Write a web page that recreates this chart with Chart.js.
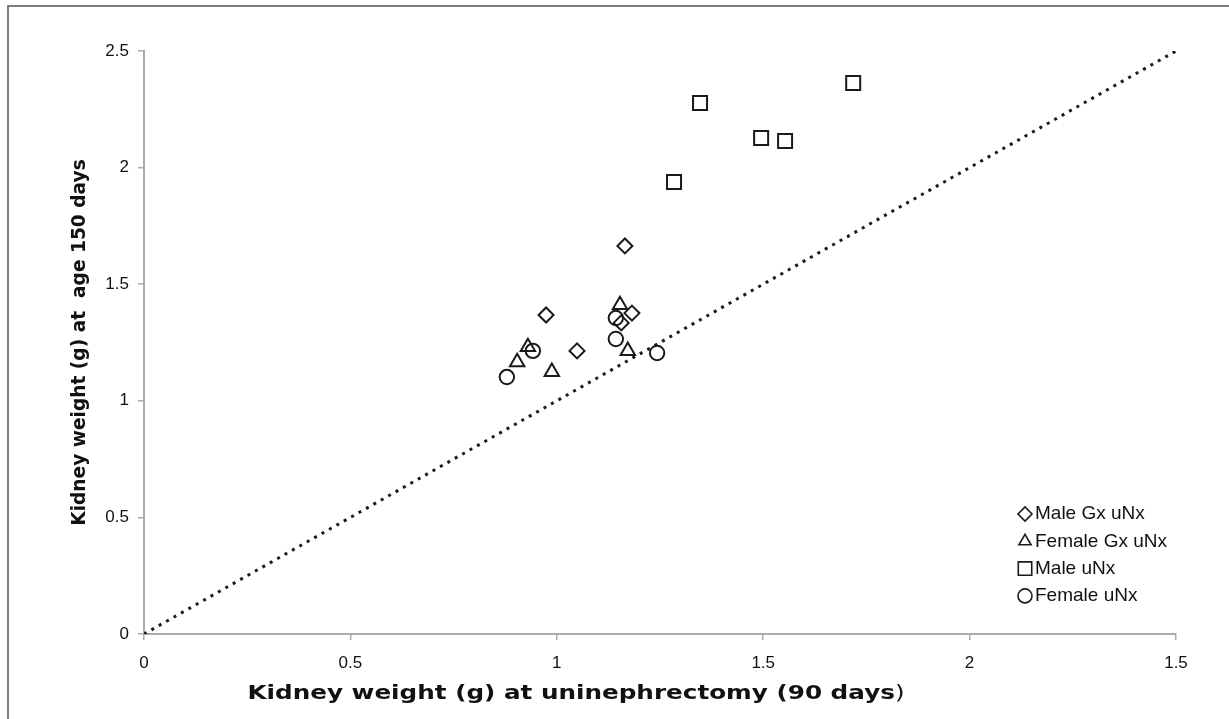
<!DOCTYPE html>
<html>
<head>
<meta charset="utf-8">
<title>Kidney weight</title>
<script src="https://cdn.jsdelivr.net/npm/chart.js@4/dist/chart.umd.min.js"></script>
<style>
  html, body { margin: 0; padding: 0; background: #fff; }
  #wrap { width: 1229px; height: 719px; position: relative; }
</style>
</head>
<body>
<div id="wrap"><canvas id="kidneyChart"></canvas></div>
<script>
// values: x = weight at uNx (90 d), y = weight at 150 d
const maleGxX = [1.165, 0.974, 1.049, 1.182, 1.156];
const maleGxY = [1.664, 1.368, 1.214, 1.376, 1.334];
const femaleGxX = [1.153, 0.930, 0.904, 0.988, 1.172];
const femaleGxY = [1.411, 1.231, 1.166, 1.124, 1.214];
const maleX = [1.284, 1.347, 1.495, 1.553, 1.718];
const maleY = [1.938, 2.277, 2.127, 2.114, 2.363];
const femaleX = [0.942, 0.879, 1.143, 1.143, 1.243];
const femaleY = [1.214, 1.102, 1.355, 1.265, 1.205];
const identityLine = [0, 2.5]; // dotted line of equality
const xTickLabels = ['0', '0.5', '1', '1.5', '2', '1.5']; // last label as printed in the figure
const yTickLabels = ['0', '0.5', '1', '1.5', '2', '2.5'];
const seriesNames = ['Male Gx uNx', 'Female Gx uNx', 'Male uNx', 'Female uNx'];
const xTitle = 'Kidney weight (g) at uninephrectomy (90 days';
const yTitle = 'Kidney weight (g) at  age 150 days';

const ink = '#1a1a1a';
const axisGrey = '#ababab';
const sans = '"Liberation Sans", Arial, sans-serif';
const wide = '"DejaVu Sans", sans-serif';

function pairs(xs, ys){
  return xs.map((x, i) => ({x: x, y: ys[i]}));
}

// legend drawn inside the plot, bottom right, like the original
const innerLegend = {
  id: 'innerLegend',
  afterDraw(chart){
    const ctx = chart.ctx;
    const sets = chart.data.datasets.filter(d => d.type !== 'line');
    ctx.save();
    ctx.font = '19px ' + sans;
    ctx.textBaseline = 'middle';
    for (let i = 0; i < sets.length; i++){
      let y = 513 + i * 27.3;
      ctx.strokeStyle = ink;
      ctx.fillStyle = 'rgba(0,0,0,0)';
      ctx.lineWidth = 1.6;
      Chart.helpers.drawPoint(ctx, {
        pointStyle: sets[i].pointStyle,
        radius: sets[i].pointStyle === 'rect' ? 9.5 : 7,
        rotation: 0,
        borderWidth: 1.6
      }, 1025, y + 1);
      ctx.fillStyle = '#111';
      ctx.fillText(sets[i].label, 1035, y + 1);
    }
    ctx.restore();
  }
};

// x title: wider and left of the plot centre in the original, closing bracket not bold
const xTitlePlugin = {
  id: 'xTitlePlugin',
  afterDraw(chart){
    const ctx = chart.ctx;
    const target = 657; // span of the printed title
    ctx.save();
    ctx.fillStyle = '#111';
    ctx.textBaseline = 'alphabetic';
    ctx.font = 'bold 19px ' + wide;
    const w1 = ctx.measureText(xTitle).width;
    ctx.font = '19px ' + wide;
    const w2 = ctx.measureText(')').width;
    const k = target / (w1 + w2);
    ctx.translate(576 - target / 2, 699);
    ctx.scale(k, 1);
    ctx.font = 'bold 19px ' + wide;
    ctx.fillText(xTitle, 0, 0);
    ctx.font = '19px ' + wide;
    ctx.fillText(')', w1, 0);
    ctx.restore();
  }
};

// outer frame of the figure (left and top edges visible)
const frame = {
  id: 'frame',
  afterDraw(chart){
    const ctx = chart.ctx;
    ctx.save();
    ctx.strokeStyle = '#555';
    ctx.lineWidth = 1.5;
    ctx.beginPath();
    ctx.moveTo(8, 719);
    ctx.lineTo(8, 6);
    ctx.lineTo(1229, 6);
    ctx.stroke();
    ctx.restore();
  }
};

const tickFont = {family: sans, size: 17};

new Chart('kidneyChart', {
  type: 'scatter',
  data: {
    datasets: [
      {label: seriesNames[0], data: pairs(maleGxX, maleGxY), pointStyle: 'rectRot', pointRadius: 7.5},
      {label: seriesNames[1], data: pairs(femaleGxX, femaleGxY), pointStyle: 'triangle', pointRadius: 8.3},
      {label: seriesNames[2], data: pairs(maleX, maleY), pointStyle: 'rect', pointRadius: 9.9},
      {label: seriesNames[3], data: pairs(femaleX, femaleY), pointStyle: 'circle', pointRadius: 7.2},
      {
        type: 'line', label: 'identity',
        data: pairs(identityLine, identityLine),
        borderColor: ink, borderWidth: 3, borderDash: [3, 5.5],
        pointRadius: 0, fill: false
      }
    ].map(d => Object.assign({
      borderColor: ink,
      backgroundColor: 'rgba(0,0,0,0)',
      pointBorderWidth: 2,
      pointBorderColor: ink,
      pointBackgroundColor: 'rgba(0,0,0,0)',
      pointHoverRadius: 8
    }, d))
  },
  options: {
    responsive: true,
    maintainAspectRatio: false,
    animation: false,
    layout: {padding: {left: 0, top: 51, right: 53, bottom: 0}},
    plugins: {
      legend: {display: false},
      tooltip: {enabled: false}
    },
    scales: {
      x: {
        type: 'linear', min: 0, max: 2.5,
        afterFit: s => { s.height = 85; },
        grid: {drawOnChartArea: false, drawTicks: true, tickLength: 6, color: axisGrey, lineWidth: 1.5},
        border: {color: axisGrey, width: 2},
        ticks: {
          stepSize: 0.5, font: tickFont, color: '#111', padding: 13,
          callback: (v, i) => xTickLabels[i]
        },
        title: {display: false}
      },
      y: {
        type: 'linear', min: 0, max: 2.5,
        afterFit: s => { s.width = 144; },
        grid: {drawOnChartArea: false, drawTicks: true, tickLength: 6, color: axisGrey, lineWidth: 1.5},
        border: {color: axisGrey, width: 2},
        ticks: {
          stepSize: 0.5, font: tickFont, color: '#111', padding: 9,
          callback: (v, i) => yTickLabels[i]
        },
        title: {
          display: true, text: yTitle, color: '#111',
          font: {family: wide, size: 18.6, weight: 'bold'},
          padding: {top: 69, bottom: 0}
        }
      }
    }
  },
  plugins: [innerLegend, xTitlePlugin, frame]
});
</script>
</body>
</html>
